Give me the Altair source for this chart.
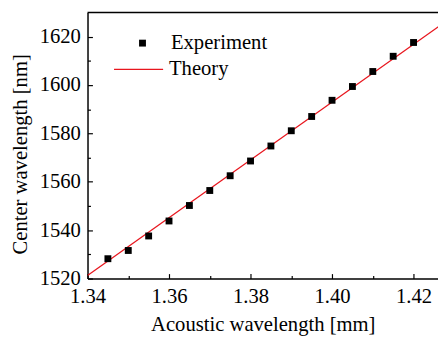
import altair as alt
import pandas as pd

# ---- data ----
exp_x = [1.345, 1.350, 1.355, 1.360, 1.365, 1.370, 1.375, 1.380,
         1.385, 1.390, 1.395, 1.400, 1.405, 1.410, 1.415, 1.420]
exp_y = [1528.2, 1531.6, 1537.6, 1543.8, 1550.2, 1556.4, 1562.5, 1568.6,
         1574.8, 1581.1, 1587.0, 1593.7, 1599.4, 1605.6, 1611.9, 1617.6]
theory_x = [1.34, 1.43]
theory_y = [1521.3, 1628.8]

x_ticks = [1.34, 1.35, 1.36, 1.37, 1.38, 1.39, 1.40, 1.41, 1.42]
y_ticks = [1520, 1530, 1540, 1550, 1560, 1570, 1580, 1590, 1600, 1610, 1620]
top_edge = [1630]

FONT = "Liberation Serif"
RED = "#e8161e"

df_exp = pd.DataFrame({"x": exp_x, "y": exp_y, "s": ["Experiment"] * len(exp_x)})
df_th = pd.DataFrame({"x": theory_x, "y": theory_y, "t": ["Theory"] * len(theory_x)})
df_top = pd.DataFrame({"y": top_edge})

xscale = alt.Scale(domain=[1.34, 1.426], nice=False, zero=False)
yscale = alt.Scale(domain=[1520, 1630], nice=False, zero=False)

xaxis = alt.Axis(
    values=x_ticks, title="Acoustic wavelength [mm]",
    labelExpr="round(datum.value*100) % 2 == 1 ? '' : format(datum.value, '.2f')",
    tickSize={"condition": {"test": "round(datum.value*100) % 2 == 1", "value": -3}, "value": -5},
    labelPadding=12.5, titleY=36,
)
yaxis = alt.Axis(
    values=y_ticks, title="Center wavelength [nm]",
    labelExpr="datum.value % 20 != 0 ? '' : format(datum.value, 'd')",
    tickSize={"condition": {"test": "datum.value % 20 != 0", "value": -3}, "value": -5},
    labelPadding=12.3, titleX=-58, titleY=144,
)

points = alt.Chart(df_exp).mark_point(filled=True, size=49, color="black", opacity=1).encode(
    x=alt.X("x:Q", scale=xscale, axis=xaxis),
    y=alt.Y("y:Q", scale=yscale, axis=yaxis),
    shape=alt.Shape("s:N", scale=alt.Scale(domain=["Experiment"], range=["square"]),
                    legend=alt.Legend(title=None, orient="none", legendX=45.5, legendY=20.7,
                                      symbolSize=49, symbolFillColor="black", symbolStrokeWidth=0,
                                      labelOffset=18.5)),
)

line = alt.Chart(df_th).mark_line(strokeWidth=1.3, clip=True).encode(
    x=alt.X("x:Q", scale=xscale, axis=xaxis),
    y=alt.Y("y:Q", scale=yscale, axis=yaxis),
    color=alt.Color("t:N", scale=alt.Scale(domain=["Theory"], range=[RED]),
                    legend=alt.Legend(title=None, orient="none", legendX=26, legendY=32,
                                      symbolType="stroke", symbolSize=2500, symbolStrokeWidth=1.3,
                                      labelOffset=5)),
)

top = alt.Chart(df_top).mark_rule(color="black", strokeWidth=1.5).encode(
    y=alt.Y("y:Q", scale=yscale, axis=yaxis),
)

chart = alt.layer(line, points, top).properties(
    width=357, height=271,
    background="white",
    autosize=alt.AutoSizeParams(type="none"),
    padding={"left": 81, "top": 1.5, "right": 0, "bottom": 58},
).configure_view(
    stroke=None
).configure_axis(
    grid=False, domainColor="black", domainWidth=1.5, tickColor="black",
    tickWidth=1.2, labelFont=FONT, labelFontSize=21, labelColor="black",
    titleFont=FONT, titleFontSize=21, titleFontWeight="normal", titleColor="black",
    labelOverlap=False, labelFlush=False, labelBound=False,
).configure_legend(
    labelFont=FONT, labelFontSize=21, labelColor="black", padding=0,
)

chart.save("out.html", embed_options={"renderer": "svg", "actions": False})
